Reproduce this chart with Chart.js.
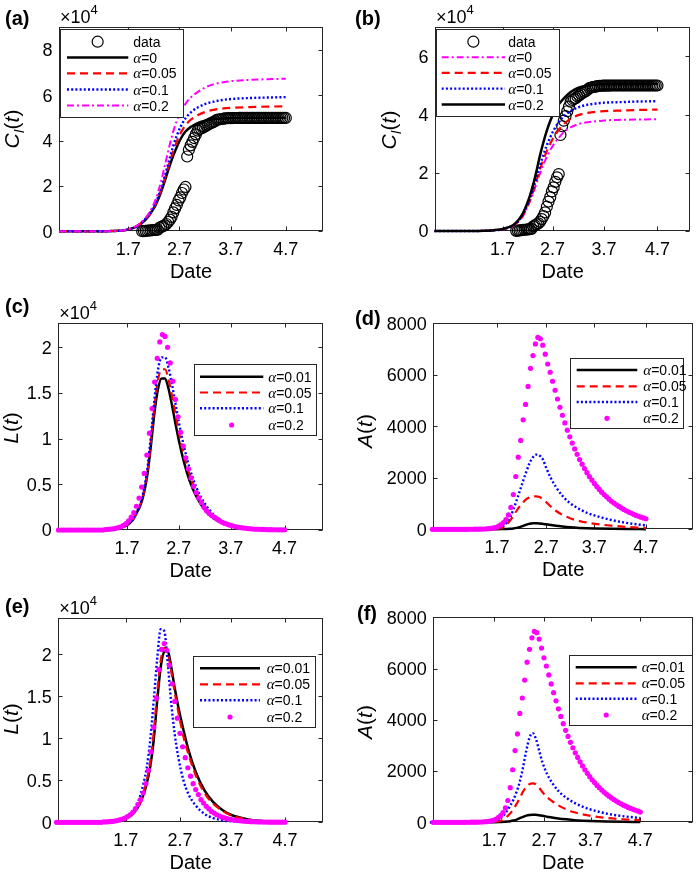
<!DOCTYPE html>
<html>
<head>
<meta charset="utf-8">
<title>Model curves</title>
<script src="https://cdn.jsdelivr.net/npm/chart.js@4.4.1/dist/chart.umd.min.js"></script>
<style>
  html, body { margin: 0; padding: 0; background: #fff; }
  #fig { position: relative; width: 697px; height: 875px; overflow: hidden; }
  #fig canvas { position: absolute; left: 0; top: 0; }
</style>
</head>
<body>
<div id="fig">
  <canvas id="pa" width="697" height="875"></canvas>
  <canvas id="pb" width="697" height="875"></canvas>
  <canvas id="pc" width="697" height="875"></canvas>
  <canvas id="pd" width="697" height="875"></canvas>
  <canvas id="pe" width="697" height="875"></canvas>
  <canvas id="pf" width="697" height="875"></canvas>
</div>
<script>
// ===== x values: days, tick "1.7" = day 0 =====
const dateLabels = ["1.7", "2.7", "3.7", "4.7"];
const lineDays = [-40,-25,-15,-10,-6,-3,0,3,6,8,10,12,14,16,18,20,22,24,26,28,30,33,36,40,45,50,55,60,70,80,91];
const dotDays = [-39.5,-38,-36.5,-35,-33.5,-32,-30.5,-29,-27.5,-26,-24.5,-23,-21.5,-20,-18.5,-17,-15.5,-14,
  -12.5,-11,-9.5,-8,-6.5,-5,-3.5,-2,-0.5,1,2.5,4,5.5,7,8.5,10,11.5,13,14.5,16,17.5,19,20.5,22,23.5,25,26.5,28,
  29.5,31,32.5,34,35.5,37,38.5,40,41.5,43,44.5,46,47.5,49,50.5,52,53.5,55,56.5,58,59.5,61,62.5,64,65.5,67,68.5,
  70,71.5,73,74.5,76,77.5,79,80.5,82,83.5,85,86.5,88,89.5,91];
const caseDays = [8,9,10,11,12,13,14,15,16,17,18,19,20,21,22,23,24,25,26,27,28,29,30,31,32,33,34,35,36,37,38,39,
  40,41,42,43,44,45,46,47,48,49,50,51,52,53,54,55,56,57,58,59,60,61,62,63,64,65,66,67,68,69,70,71,72,73,74,75,
  76,77,78,79,80,81,82,83,84,85,86,87,88,89,90,91];

// ===== reported cumulative cases (x10^4) =====
const cases = [0.006,0.012,0.020,0.026,0.036,0.043,0.050,0.057,0.062,0.070,0.159,0.191,0.226,0.264,0.322,0.411,
  0.514,0.638,0.835,1.012,1.162,1.360,1.498,1.690,1.845,1.956,3.299,3.599,3.791,3.946,4.115,4.275,4.441,4.503,
  4.535,4.566,4.620,4.661,4.707,4.744,4.782,4.814,4.856,4.912,4.932,4.943,4.954,4.967,4.980,4.987,4.991,4.995,
  4.997,4.998,4.999,4.999,5.0,5.0,5.0,5.0,5.0,5.0,5.0,5.0,5.0,5.0,5.0,5.0,5.0,5.0,5.0,5.0,5.0,5.0,5.0,5.0,5.0,
  5.0,5.0,5.0,5.0,5.0,5.0,5.0];

// ===== (a) C_I(t), x10^4 =====
const aAlpha0   = [0,0,0,0.01,0.02,0.04,0.08,0.15,0.27,0.38,0.52,0.7,0.93,1.2,1.55,1.98,2.45,2.92,3.35,3.72,4.05,4.4,4.6,4.77,4.89,4.95,4.98,5.0,5.01,5.01,5.01];
const aAlpha005 = [0,0,0,0.01,0.02,0.04,0.08,0.15,0.28,0.39,0.54,0.72,0.96,1.25,1.62,2.07,2.57,3.08,3.55,3.96,4.3,4.68,4.92,5.12,5.28,5.37,5.42,5.45,5.48,5.5,5.51];
const aAlpha01  = [0,0,0,0.01,0.02,0.04,0.08,0.15,0.28,0.4,0.56,0.75,1.0,1.3,1.7,2.17,2.7,3.25,3.78,4.22,4.58,4.98,5.24,5.46,5.63,5.73,5.8,5.84,5.88,5.9,5.92];
const aAlpha02  = [0,0,0,0.01,0.02,0.04,0.09,0.17,0.3,0.43,0.6,0.82,1.1,1.45,1.95,2.55,3.2,3.85,4.42,4.88,5.22,5.62,5.9,6.14,6.37,6.5,6.58,6.63,6.68,6.71,6.73];

// ===== (b) C_I(t), x10^4 =====
const bAlpha0   = [0,0,0,0.01,0.02,0.03,0.06,0.1,0.17,0.25,0.36,0.52,0.75,1.0,1.3,1.65,1.98,2.28,2.55,2.78,2.97,3.2,3.4,3.56,3.68,3.74,3.77,3.8,3.82,3.83,3.84];
const bAlpha005 = [0,0,0,0.01,0.02,0.03,0.06,0.1,0.17,0.26,0.37,0.54,0.78,1.05,1.38,1.75,2.12,2.45,2.75,3.0,3.22,3.48,3.68,3.86,3.99,4.06,4.1,4.12,4.14,4.16,4.17];
const bAlpha01  = [0,0,0,0.01,0.02,0.03,0.06,0.11,0.18,0.27,0.39,0.57,0.82,1.1,1.45,1.85,2.25,2.62,2.95,3.22,3.46,3.74,3.94,4.12,4.26,4.34,4.38,4.41,4.43,4.45,4.46];
const bAlpha02  = [0,0,0,0.01,0.02,0.04,0.07,0.12,0.2,0.3,0.43,0.62,0.88,1.2,1.6,2.08,2.6,3.05,3.45,3.78,4.05,4.35,4.56,4.78,4.93,5.0,5.03,5.05,5.06,5.06,5.06];

// ===== (c) L(t), x10^4 =====
const cAlpha001 = [0,0,0.002,0.008,0.015,0.03,0.05,0.1,0.2,0.28,0.42,0.63,0.95,1.3,1.55,1.66,1.66,1.55,1.37,1.17,0.98,0.74,0.55,0.37,0.22,0.13,0.08,0.05,0.02,0.008,0.003];
const cAlpha005 = [0,0,0.002,0.008,0.015,0.03,0.05,0.1,0.2,0.29,0.44,0.66,1.0,1.37,1.65,1.76,1.76,1.65,1.47,1.27,1.07,0.82,0.62,0.42,0.25,0.15,0.09,0.055,0.022,0.009,0.003];
const cAlpha01  = [0,0,0.002,0.008,0.016,0.03,0.055,0.11,0.21,0.3,0.46,0.7,1.06,1.45,1.76,1.89,1.89,1.78,1.6,1.39,1.18,0.91,0.69,0.47,0.29,0.17,0.1,0.06,0.025,0.01,0.004];
const cAlpha02  = [0,0,0,0,0,0,0,0,0,0,0,0,0,0,0,0,0,0,
  0.005,0.007,0.01,0.013,0.018,0.025,0.035,0.05,0.07,0.1,0.14,0.19,0.26,0.35,0.47,0.62,0.82,1.06,1.33,1.62,
  1.88,2.06,2.14,2.12,2.0,1.83,1.63,1.43,1.24,1.07,0.92,0.79,0.67,0.57,0.48,0.41,0.35,0.3,0.25,0.21,0.18,0.16,
  0.14,0.12,0.1,0.085,0.072,0.062,0.053,0.045,0.038,0.032,0.027,0.023,0.019,0.016,0.013,0.011,0.009,0.008,
  0.007,0.006,0.005,0.004,0.004,0.003,0.003,0.002,0.002,0.002];

// ===== (d) A(t) =====
const dAlpha001 = [0,0,0,0,1,2,3,8,15,22,35,55,85,130,180,215,232,235,228,212,195,165,135,105,75,55,40,30,17,10,6];
const dAlpha005 = [0,0,1,2,5,10,18,50,180,340,520,720,900,1050,1170,1240,1275,1280,1250,1170,1060,880,720,560,420,330,260,210,140,90,55];
const dAlpha01  = [0,0,2,5,12,22,40,90,250,460,760,1120,1500,1880,2250,2580,2800,2900,2870,2720,2400,1980,1650,1300,1000,800,640,530,360,240,150];
const dAlpha02  = [0,0,0,0,0,0,0,0,0,0,0,0,0,0,0,1,2,3,
  4,5,8,12,18,26,38,55,80,120,180,260,380,560,850,1350,2050,2800,3450,4250,4850,5550,6250,6750,7200,7450,
  7400,7150,6800,6420,6100,5750,5400,5060,4740,4430,4130,3850,3590,3350,3120,2910,2710,2530,2360,2200,2050,
  1910,1780,1660,1550,1440,1350,1260,1170,1090,1020,950,890,830,770,720,670,630,580,540,505,470,440,410];

// ===== (e) L(t), x10^4 =====
const eAlpha001 = [0,0,0.002,0.005,0.01,0.02,0.04,0.08,0.15,0.22,0.32,0.46,0.66,0.98,1.45,1.85,2.03,2.04,1.85,1.6,1.38,1.1,0.85,0.6,0.38,0.24,0.15,0.09,0.035,0.013,0.005];
const eAlpha005 = [0,0,0.002,0.005,0.01,0.02,0.04,0.08,0.15,0.23,0.34,0.5,0.72,1.07,1.55,1.93,2.08,2.02,1.8,1.55,1.32,1.02,0.8,0.56,0.35,0.22,0.14,0.085,0.032,0.012,0.005];
const eAlpha01  = [0,0,0.002,0.006,0.012,0.025,0.05,0.1,0.2,0.3,0.45,0.65,0.98,1.45,1.95,2.3,2.28,1.9,1.42,1.05,0.78,0.5,0.33,0.2,0.1,0.05,0.025,0.012,0.004,0.002,0.001];
const eAlpha02  = [0,0,0,0,0,0,0,0,0,0,0,0,0,0,0,0,0,0,
  0.004,0.005,0.007,0.01,0.014,0.02,0.028,0.038,0.05,0.068,0.09,0.12,0.16,0.21,0.27,0.35,0.46,0.62,0.84,1.13,
  1.48,1.82,2.06,2.13,2.05,1.87,1.65,1.44,1.24,1.06,0.9,0.77,0.65,0.55,0.46,0.39,0.33,0.27,0.23,0.19,0.16,0.13,
  0.11,0.09,0.075,0.062,0.052,0.043,0.036,0.03,0.025,0.021,0.017,0.014,0.012,0.01,0.008,0.007,0.006,0.005,
  0.004,0.003,0.003,0.002,0.002,0.002,0.001,0.001,0.001,0.001];

// ===== (f) A(t) =====
const fAlpha001 = [0,0,0,0,1,2,4,10,20,30,45,70,105,160,215,260,285,295,290,275,255,220,185,150,115,85,65,50,30,18,10];
const fAlpha005 = [0,0,1,2,5,10,18,40,120,220,350,520,720,950,1200,1380,1490,1520,1480,1350,1180,980,830,660,500,390,310,250,170,120,85];
const fAlpha01  = [0,0,2,5,12,22,45,110,280,450,650,880,1200,1600,2150,2800,3300,3480,3250,2800,2350,1880,1550,1220,950,760,610,500,340,240,170];
const fAlpha02  = [0,0,0,0,0,0,0,0,0,0,0,0,0,0,0,1,2,3,
  4,5,8,12,18,26,38,55,80,120,180,260,380,560,850,1350,2050,2800,3450,4250,4850,5550,6250,6750,7200,7450,
  7400,7150,6800,6420,6100,5750,5400,5060,4740,4430,4130,3850,3590,3350,3120,2910,2710,2530,2360,2200,2050,
  1910,1780,1660,1550,1440,1350,1260,1170,1090,1020,950,890,830,770,720,670,630,580,540,505,470,440,400];

// ===== styles =====
const FONT = '"Liberation Sans", Arial, Helvetica, sans-serif';
const it = s => "italic " + s + "px " + FONT;
const rm = s => s + "px " + FONT;
const INK = "#000";
const BOX = "#262626";

const sty = {
  black:   { kind: "line", color: "#000000", width: 2.5, dash: [] },
  red:     { kind: "line", color: "#ff0000", width: 2.2, dash: [8, 5] },
  blue:    { kind: "line", color: "#0000ff", width: 2.4, dash: [2, 2.2] },
  magLine: { kind: "line", color: "#ff00ff", width: 2, dash: [7, 3, 2, 3] },
  magDots: { kind: "dots", color: "#ff00ff", r: 2.6 },
  circles: { kind: "circle", color: "#000000", r: 5.5 }
};

const alphaLabel = v => [{ t: "\u03b1", f: 'italic 15px "Liberation Serif", serif' }, { t: "=" + v, f: rm(14) }];
const yTitles = {
  CI: [{ t: "C", f: it(21) }, { t: "I", f: it(14), dy: 5 }, { t: "(", f: rm(21) }, { t: "t", f: it(21) }, { t: ")", f: rm(21) }],
  L:  [{ t: "L", f: it(21) }, { t: "(", f: rm(21) }, { t: "t", f: it(21) }, { t: ")", f: rm(21) }],
  A:  [{ t: "A", f: it(21) }, { t: "(", f: rm(21) }, { t: "t", f: it(21) }, { t: ")", f: rm(21) }]
};

// ===== panels =====
const panels = [
  { id: "pa", tag: "(a)", tagPos: [5, 25], box: [59, 27.3, 323, 231.3], x: [-40.1, 112.5], xTicks: [0, 29.5, 59.2, 91],
    y: [0, 9], yTicks: [0, 2, 4, 6, 8], exp: true, yTitle: "CI", yTitlePos: [19, 129],
    legend: { box: [60, 29.3, 183.3, 117.3], rows: [41.7, 57.5, 73.3, 89.5, 105.5], sx: [67, 128.3], tx: 133.3 },
    series: [
      { xs: caseDays, ys: cases, st: sty.circles, label: [{ t: "data", f: rm(14) }] },
      { xs: lineDays, ys: aAlpha0, st: sty.black, label: alphaLabel("0") },
      { xs: lineDays, ys: aAlpha005, st: sty.red, label: alphaLabel("0.05") },
      { xs: lineDays, ys: aAlpha01, st: sty.blue, label: alphaLabel("0.1") },
      { xs: lineDays, ys: aAlpha02, st: sty.magLine, label: alphaLabel("0.2") }
    ] },
  { id: "pb", tag: "(b)", tagPos: [355, 25], box: [435, 27.3, 693.3, 231], x: [-39.7, 110.3], xTicks: [0, 29.4, 59.6, 91],
    y: [0, 7], yTicks: [0, 2, 4, 6], exp: true, yTitle: "CI", yTitlePos: [396, 130],
    legend: { box: [436, 29.3, 559.3, 116.7], rows: [41.7, 57.3, 72.9, 88.6, 104.5], sx: [441.7, 505], tx: 508.3 },
    series: [
      { xs: caseDays, ys: cases, st: sty.circles, label: [{ t: "data", f: rm(14) }] },
      { xs: lineDays, ys: bAlpha0, st: sty.magLine, label: alphaLabel("0") },
      { xs: lineDays, ys: bAlpha005, st: sty.red, label: alphaLabel("0.05") },
      { xs: lineDays, ys: bAlpha01, st: sty.blue, label: alphaLabel("0.1") },
      { xs: lineDays, ys: bAlpha02, st: sty.black, label: alphaLabel("0.2") }
    ] },
  { id: "pc", tag: "(c)", tagPos: [5, 313], box: [58.3, 322.7, 323, 530], x: [-39.6, 113.2], xTicks: [0, 30, 60, 91],
    y: [0, 2.27], yTicks: [0, 0.5, 1, 1.5, 2], exp: true, yTitle: "L", yTitlePos: [18, 428],
    legend: { box: [194.3, 364, 316.7, 435], rows: [376.7, 392.5, 408.3, 425], sx: [200, 263.3], tx: 268.3 },
    series: [
      { xs: lineDays, ys: cAlpha001, st: sty.black, label: alphaLabel("0.01") },
      { xs: lineDays, ys: cAlpha005, st: sty.red, label: alphaLabel("0.05") },
      { xs: lineDays, ys: cAlpha01, st: sty.blue, label: alphaLabel("0.1") },
      { xs: dotDays, ys: cAlpha02, st: sty.magDots, label: alphaLabel("0.2") }
    ] },
  { id: "pd", tag: "(d)", tagPos: [355, 325], box: [433.3, 323.3, 694, 529.3], x: [-38.9, 119.8], xTicks: [0, 30.1, 59.5, 91],
    y: [0, 8000], yTicks: [0, 2000, 4000, 6000, 8000], exp: false, yTitle: "A", yTitlePos: [372, 431],
    legend: { box: [570, 358.3, 683.3, 428.3], rows: [370, 386.3, 402, 418.3], sx: [576.7, 637.3], tx: 643.3 },
    series: [
      { xs: lineDays, ys: dAlpha001, st: sty.black, label: alphaLabel("0.01") },
      { xs: lineDays, ys: dAlpha005, st: sty.red, label: alphaLabel("0.05") },
      { xs: lineDays, ys: dAlpha01, st: sty.blue, label: alphaLabel("0.1") },
      { xs: dotDays, ys: dAlpha02, st: sty.magDots, label: alphaLabel("0.2") }
    ] },
  { id: "pe", tag: "(e)", tagPos: [5, 613], box: [58.3, 617.5, 323, 822.3], x: [-38.5, 112.7], xTicks: [0, 31, 60.2, 91],
    y: [0, 2.44], yTicks: [0, 0.5, 1, 1.5, 2], exp: true, yTitle: "L", yTitlePos: [18, 719],
    legend: { box: [193.3, 656, 315, 726.7], rows: [668.3, 684.3, 700.3, 717], sx: [200, 260], tx: 266.7 },
    series: [
      { xs: lineDays, ys: eAlpha001, st: sty.black, label: alphaLabel("0.01") },
      { xs: lineDays, ys: eAlpha005, st: sty.red, label: alphaLabel("0.05") },
      { xs: lineDays, ys: eAlpha01, st: sty.blue, label: alphaLabel("0.1") },
      { xs: dotDays, ys: eAlpha02, st: sty.magDots, label: alphaLabel("0.2") }
    ] },
  { id: "pf", tag: "(f)", tagPos: [357, 620], box: [433.3, 617.3, 694, 822.3], x: [-37.9, 123.8], xTicks: [0, 31, 60, 91],
    y: [0, 8000], yTicks: [0, 2000, 4000, 6000, 8000], exp: false, yTitle: "A", yTitlePos: [372, 722],
    legend: { box: [569, 655, 691.7, 725], rows: [667.3, 683.3, 698.8, 715], sx: [575.7, 636.7], tx: 641.7 },
    series: [
      { xs: lineDays, ys: fAlpha001, st: sty.black, label: alphaLabel("0.01") },
      { xs: lineDays, ys: fAlpha005, st: sty.red, label: alphaLabel("0.05") },
      { xs: lineDays, ys: fAlpha01, st: sty.blue, label: alphaLabel("0.1") },
      { xs: dotDays, ys: fAlpha02, st: sty.magDots, label: alphaLabel("0.2") }
    ] }
];
const panelById = {};
panels.forEach(p => panelById[p.id] = p);

// ===== text helpers =====
function richWidth(ctx, segs) {
  let w = 0;
  segs.forEach(s => { ctx.font = s.f; w += ctx.measureText(s.t).width; });
  return w;
}
function drawRich(ctx, segs, x, y) {
  let cx = x;
  segs.forEach(s => {
    ctx.font = s.f;
    ctx.fillText(s.t, cx, y + (s.dy || 0));
    cx += ctx.measureText(s.t).width;
  });
}

// ===== axes, box, labels =====
function drawFrame(chart, p) {
  const ctx = chart.ctx, ca = chart.chartArea;
  const xs = chart.scales.x, ys = chart.scales.y;
  const L = Math.round(ca.left) + 0.5, R = Math.round(ca.right) - 0.5;
  const T = Math.round(ca.top) + 0.5, B = Math.round(ca.bottom) - 0.5;
  ctx.save();
  ctx.strokeStyle = BOX;
  ctx.lineWidth = 1;
  ctx.setLineDash([]);
  ctx.strokeRect(L, T, R - L, B - T);
  ctx.beginPath();
  p.xTicks.forEach(v => {
    const px = Math.round(xs.getPixelForValue(v)) + 0.5;
    ctx.moveTo(px, B); ctx.lineTo(px, B - 4);
    ctx.moveTo(px, T); ctx.lineTo(px, T + 4);
  });
  p.yTicks.forEach(v => {
    const py = Math.round(ys.getPixelForValue(v)) + 0.5;
    ctx.moveTo(L, py); ctx.lineTo(L + 4, py);
    ctx.moveTo(R, py); ctx.lineTo(R - 4, py);
  });
  ctx.stroke();

  ctx.fillStyle = INK;
  ctx.font = rm(18);
  ctx.textBaseline = "alphabetic";
  ctx.textAlign = "center";
  p.xTicks.forEach((v, i) => ctx.fillText(dateLabels[i], xs.getPixelForValue(v), ca.bottom + 23.5));
  ctx.textAlign = "right";
  p.yTicks.forEach(v => ctx.fillText(String(v), ca.left - 6.5, ys.getPixelForValue(v) + 6.4));

  // x title
  ctx.textAlign = "center";
  ctx.font = rm(20);
  ctx.fillText("Date", (ca.left + ca.right) / 2, ca.bottom + 47);

  // panel tag
  ctx.textAlign = "left";
  ctx.font = "bold 20px " + FONT;
  ctx.fillText(p.tag, p.tagPos[0], p.tagPos[1]);

  // x10^4 factor
  if (p.exp) {
    drawRich(ctx, [{ t: "\u00d710", f: rm(18) }, { t: "4", f: rm(13), dy: -9 }], ca.left + 1, ca.top - 4);
  }

  // y title, rotated
  const segs = yTitles[p.yTitle];
  ctx.save();
  ctx.translate(p.yTitlePos[0], p.yTitlePos[1]);
  ctx.rotate(-Math.PI / 2);
  drawRich(ctx, segs, -richWidth(ctx, segs) / 2, 0);
  ctx.restore();
  ctx.restore();
}

function drawLegend(chart, p) {
  const ctx = chart.ctx, lg = p.legend;
  ctx.save();
  const bx = Math.round(lg.box[0]) + 0.5, by = Math.round(lg.box[1]) + 0.5;
  const bw = Math.round(lg.box[2] - lg.box[0]), bh = Math.round(lg.box[3] - lg.box[1]);
  ctx.fillStyle = "#fff";
  ctx.fillRect(bx, by, bw, bh);
  ctx.strokeStyle = BOX;
  ctx.lineWidth = 1;
  ctx.strokeRect(bx, by, bw, bh);
  const mid = (lg.sx[0] + lg.sx[1]) / 2;
  p.series.forEach((s, i) => {
    const y = lg.rows[i], st = s.st;
    if (st.kind === "line") {
      ctx.strokeStyle = st.color;
      ctx.lineWidth = st.width;
      ctx.setLineDash(st.dash);
      ctx.lineCap = "butt";
      ctx.beginPath();
      ctx.moveTo(lg.sx[0], y); ctx.lineTo(lg.sx[1], y);
      ctx.stroke();
      ctx.setLineDash([]);
    } else if (st.kind === "dots") {
      ctx.fillStyle = st.color;
      ctx.beginPath(); ctx.arc(mid, y, st.r, 0, Math.PI * 2); ctx.fill();
    } else {
      ctx.strokeStyle = st.color;
      ctx.lineWidth = 1.2;
      ctx.beginPath(); ctx.arc(mid, y, st.r, 0, Math.PI * 2); ctx.stroke();
    }
    ctx.fillStyle = INK;
    ctx.textAlign = "left";
    ctx.textBaseline = "alphabetic";
    drawRich(ctx, s.label, lg.tx, y + 5);
  });
  ctx.restore();
}

const framePlugin = {
  id: "frame",
  beforeDatasetsDraw(chart) { drawFrame(chart, panelById[chart.canvas.id]); },
  afterDatasetsDraw(chart) { drawLegend(chart, panelById[chart.canvas.id]); }
};

// ===== datasets =====
function makeDataset(s, i, n) {
  const pts = s.xs.map((x, k) => ({ x: x, y: s.ys[k] })).filter(q => q.y !== undefined);
  const st = s.st;
  const base = { data: pts, order: n - i, clip: false };
  if (st.kind === "line") {
    return Object.assign(base, {
      showLine: true, pointRadius: 0, borderColor: st.color, borderWidth: st.width,
      borderDash: st.dash, borderCapStyle: "butt", cubicInterpolationMode: "monotone", fill: false
    });
  }
  if (st.kind === "dots") {
    return Object.assign(base, {
      showLine: false, pointRadius: st.r, pointBackgroundColor: st.color, pointBorderWidth: 0
    });
  }
  return Object.assign(base, {
    showLine: false, pointRadius: st.r, pointBorderColor: st.color,
    pointBackgroundColor: "rgba(0,0,0,0)", pointBorderWidth: 1.2
  });
}

// ===== charts =====
panels.forEach(p => {
  const n = p.series.length;
  new Chart(document.getElementById(p.id), {
    type: "scatter",
    data: { datasets: p.series.map((s, i) => makeDataset(s, i, n)) },
    options: {
      responsive: false,
      animation: false,
      devicePixelRatio: 1,
      events: [],
      layout: { padding: { left: p.box[0], top: p.box[1], right: 697 - p.box[2], bottom: 875 - p.box[3] } },
      plugins: { legend: { display: false }, tooltip: { enabled: false } },
      scales: {
        x: { type: "linear", display: false, min: p.x[0], max: p.x[1] },
        y: { type: "linear", display: false, min: p.y[0], max: p.y[1] }
      }
    },
    plugins: [framePlugin]
  });
});
</script>
</body>
</html>
